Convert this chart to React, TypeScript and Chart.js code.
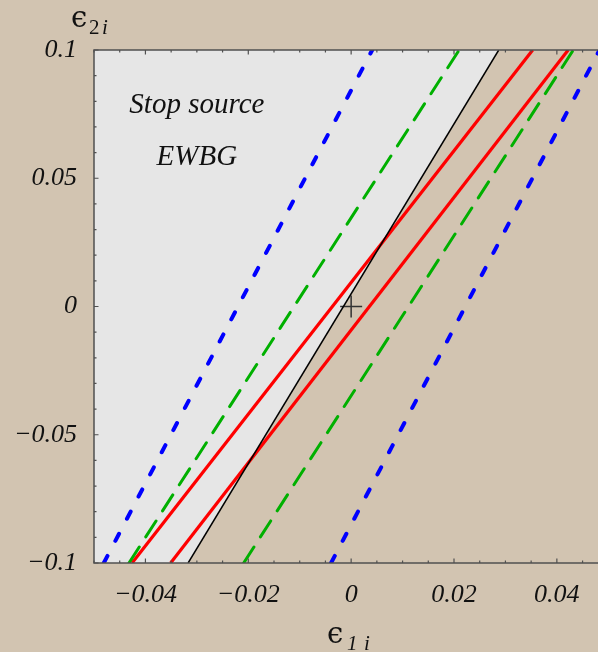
import React, { useEffect, useRef } from "react";
import { Chart, registerables } from "chart.js";

Chart.register(...registerables);

// ---- data ----
const xRange = [-0.05, 0.048];
const yRange = [-0.1, 0.1];
const yEnds = [-0.1, 0.1];
const blackX = [-0.0317, 0.0287];
const redX1 = [-0.0426, 0.0353];
const redX2 = [-0.0351, 0.0422];
const greenX1 = [-0.0432, 0.021];
const greenX2 = [-0.0209, 0.0432];
const blueX1 = [-0.0481, 0.0041];
const blueX2 = [-0.0039, 0.0483];
const regionX = [-0.05, -0.0317, 0.0287, -0.05];
const regionY = [-0.1, -0.1, 0.1, 0.1];
const crossPoint = [{ x: 0, y: 0 }];

const xTicks = [-0.04, -0.02, 0, 0.02, 0.04];
const xTickLabels = ["\u22120.04", "\u22120.02", "0", "0.02", "0.04"];
const yTicks = [-0.1, -0.05, 0, 0.05, 0.1];
const yTickLabels = ["\u22120.1", "\u22120.05", "0", "0.05", "0.1"];
const xMinorStep = 0.005;
const yMinorStep = 0.01;

const annotationLines = ["Stop source", "EWBG"];
const annotationX = -0.03;

const TAN = "#d2c4b1";
const GRAY = "#e6e6e6";
const FRAME = "#505050";

function pts(xs: number[], ys: number[]) {
  return xs.map((x, i) => ({ x, y: ys[i] }));
}

const decorPlugin = {
  id: "decor",
  beforeDraw(chart: any) {
    const { ctx, width, height } = chart;
    ctx.save();
    ctx.fillStyle = TAN;
    ctx.fillRect(0, 0, width, height);
    ctx.restore();
  },
  beforeDatasetsDraw(chart: any) {
    const { ctx, chartArea } = chart;
    const xs = chart.scales.x;
    const ys = chart.scales.y;
    ctx.save();
    ctx.beginPath();
    ctx.rect(chartArea.left, chartArea.top, chartArea.right - chartArea.left, chartArea.bottom - chartArea.top);
    ctx.clip();
    ctx.fillStyle = GRAY;
    ctx.beginPath();
    regionX.forEach((x, i) => {
      const px = xs.getPixelForValue(x);
      const py = ys.getPixelForValue(regionY[i]);
      if (i === 0) ctx.moveTo(px, py);
      else ctx.lineTo(px, py);
    });
    ctx.closePath();
    ctx.fill();
    // annotation text
    ctx.fillStyle = "#111";
    ctx.font = "italic 29px 'Liberation Serif', serif";
    ctx.textAlign = "center";
    ctx.textBaseline = "alphabetic";
    const cx = xs.getPixelForValue(annotationX);
    ctx.fillText(annotationLines[0], cx, 113);
    ctx.fillText(annotationLines[1], cx, 165);
    ctx.restore();
  },
  afterDraw(chart: any) {
    const { ctx, chartArea } = chart;
    const xs = chart.scales.x;
    const ys = chart.scales.y;
    const { left, right, top, bottom } = chartArea;
    ctx.save();
    ctx.strokeStyle = FRAME;
    ctx.lineWidth = 1.5;
    ctx.beginPath();
    ctx.moveTo(right + 2, top);
    ctx.lineTo(left, top);
    ctx.lineTo(left, bottom);
    ctx.lineTo(right + 2, bottom);
    ctx.stroke();
    ctx.lineWidth = 1.2;
    ctx.beginPath();
    for (let v = -0.05; v <= xRange[1] + 1e-9; v += xMinorStep) {
      const isMajor = xTicks.some((t) => Math.abs(t - v) < 1e-9);
      const len = isMajor ? 4.5 : 2.5;
      const px = xs.getPixelForValue(v);
      ctx.moveTo(px, bottom);
      ctx.lineTo(px, bottom - len);
      ctx.moveTo(px, top);
      ctx.lineTo(px, top + len);
    }
    for (let v = yRange[0]; v <= yRange[1] + 1e-9; v += yMinorStep) {
      const isMajor = yTicks.some((t) => Math.abs(t - v) < 1e-9);
      const len = isMajor ? 4.5 : 2.5;
      const py = ys.getPixelForValue(v);
      ctx.moveTo(left, py);
      ctx.lineTo(left + len, py);
    }
    ctx.stroke();
    // axis titles
    ctx.fillStyle = "#111";
    ctx.textAlign = "left";
    ctx.textBaseline = "alphabetic";
    ctx.font = "29px 'DejaVu Serif', serif";
    ctx.fillText("\u03f5", 71, 27);
    ctx.font = "21px 'Liberation Serif', serif";
    ctx.fillText("2", 89, 34);
    ctx.font = "italic 21px 'Liberation Serif', serif";
    ctx.fillText("i", 102, 34);

    ctx.font = "29px 'DejaVu Serif', serif";
    ctx.fillText("\u03f5", 327, 643);
    ctx.font = "italic 21px 'Liberation Serif', serif";
    ctx.fillText("1", 347, 650);
    ctx.fillText("i", 364, 650);
    ctx.restore();
  },
};

export default function App() {
  const ref = useRef<HTMLCanvasElement | null>(null);
  useEffect(() => {
    if (!ref.current) return;
    const line = (xs: number[], color: string, width: number, dash: number[]) => ({
      type: "line" as const,
      data: pts(xs, yEnds),
      borderColor: color,
      borderWidth: width,
      borderDash: dash,
      borderCapStyle: dash.length ? ("round" as const) : ("butt" as const),
      pointRadius: 0,
      showLine: true,
      fill: false,
    });
    const chart = new Chart(ref.current, {
      type: "scatter",
      data: {
        datasets: [
          line(blueX1, "#0000ff", 4, [8, 17]),
          line(blueX2, "#0000ff", 4, [8, 17]),
          line(greenX1, "#00b000", 3, [19, 12]),
          line(greenX2, "#00b000", 3, [19, 12]),
          line(blackX, "#000000", 1.5, []),
          line(redX1, "#ff0000", 3.2, []),
          line(redX2, "#ff0000", 3.2, []),
          {
            type: "scatter" as const,
            data: crossPoint,
            pointStyle: "cross",
            pointRadius: 11,
            pointBorderWidth: 1.5,
            pointBorderColor: "#333333",
            borderColor: "#333333",
            showLine: false,
          } as any,
        ],
      },
      options: {
        responsive: false,
        animation: false,
        layout: { autoPadding: false, padding: { top: 50, right: 0, left: 0, bottom: 0 } },
        plugins: { legend: { display: false }, tooltip: { enabled: false } },
        scales: {
          x: {
            type: "linear",
            min: xRange[0],
            max: xRange[1],
            grid: { display: false },
            border: { display: false },
            afterBuildTicks: (s: any) => {
              s.ticks = xTicks.map((v) => ({ value: v }));
            },
            afterFit: (s: any) => {
              s.height = 89;
              s.paddingLeft = 0;
              s.paddingRight = 0;
            },
            ticks: {
              autoSkip: false,
              maxRotation: 0,
              padding: 9,
              color: "#111",
              font: { family: "'Liberation Serif', serif", size: 26, style: "italic" },
              callback: (_v: any, i: number) => xTickLabels[i],
            },
          },
          y: {
            type: "linear",
            min: yRange[0],
            max: yRange[1],
            grid: { display: false },
            border: { display: false },
            afterBuildTicks: (s: any) => {
              s.ticks = yTicks.map((v) => ({ value: v }));
            },
            afterFit: (s: any) => {
              s.width = 94;
              s.paddingTop = 0;
              s.paddingBottom = 0;
            },
            ticks: {
              autoSkip: false,
              padding: 9,
              color: "#111",
              font: { family: "'Liberation Serif', serif", size: 26, style: "italic" },
              callback: (_v: any, i: number) => yTickLabels[i],
            },
          },
        },
      } as any,
      plugins: [decorPlugin],
    });
    return () => chart.destroy();
  }, []);
  return (
    <div style={{ position: "absolute", left: 0, top: 0, width: 598, height: 652 }}>
      <canvas ref={ref} width={598} height={652} style={{ display: "block" }} />
    </div>
  );
}
